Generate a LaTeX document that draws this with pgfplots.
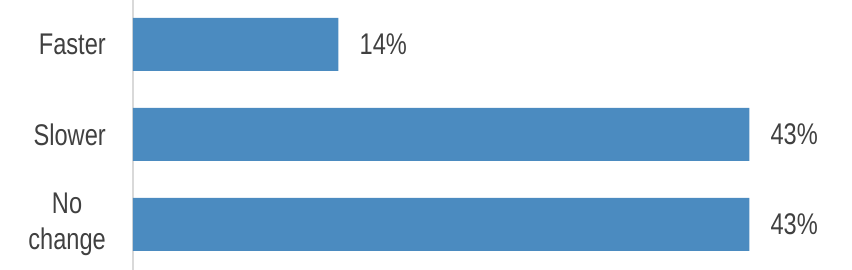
\documentclass[border=0pt]{standalone}
\usepackage{pgfplots}
\pgfplotsset{compat=1.18}
\usepackage{fontspec}
\setmainfont[FakeStretch=0.79]{Liberation Sans}
\definecolor{barblue}{RGB}{75,139,192}
\definecolor{txt}{RGB}{64,64,64}
\definecolor{axgray}{RGB}{217,217,217}
\begin{document}
\begin{tikzpicture}
\path[use as bounding box] (-133bp,0) rectangle (719bp,270bp);
\begin{axis}[
  at={(0,0)}, anchor=south west,
  scale only axis, width=719bp, height=270bp,
  xmin=0, xmax=50,
  ymin=-0.494, ymax=2.506, y dir=reverse,
  xbar, bar width=53bp,
  hide x axis,
  axis y line*=left,
  y axis line style={draw=axgray, line width=2bp, -},
  ytick={0,1,2},
  yticklabels={Faster, Slower, {No\\change}},
  major tick length=0pt,
  yticklabel style={align=center, inner sep=0pt, xshift=-27bp, text=txt, font=\fontsize{30}{36}\selectfont},
  /pgf/number format/assume math mode=true,
  point meta=x,
  nodes near coords={\pgfmathprintnumber[fixed,precision=0]{\pgfplotspointmeta}\%},
  nodes near coords style={anchor=west, inner sep=0pt, xshift=21bp, text=txt, font=\fontsize{30}{36}\selectfont},
  clip=false,
]
\addplot[fill=barblue, draw=none] coordinates {(14.29,0) (42.86,1) (42.86,2)};
\end{axis}
\end{tikzpicture}
\end{document}
